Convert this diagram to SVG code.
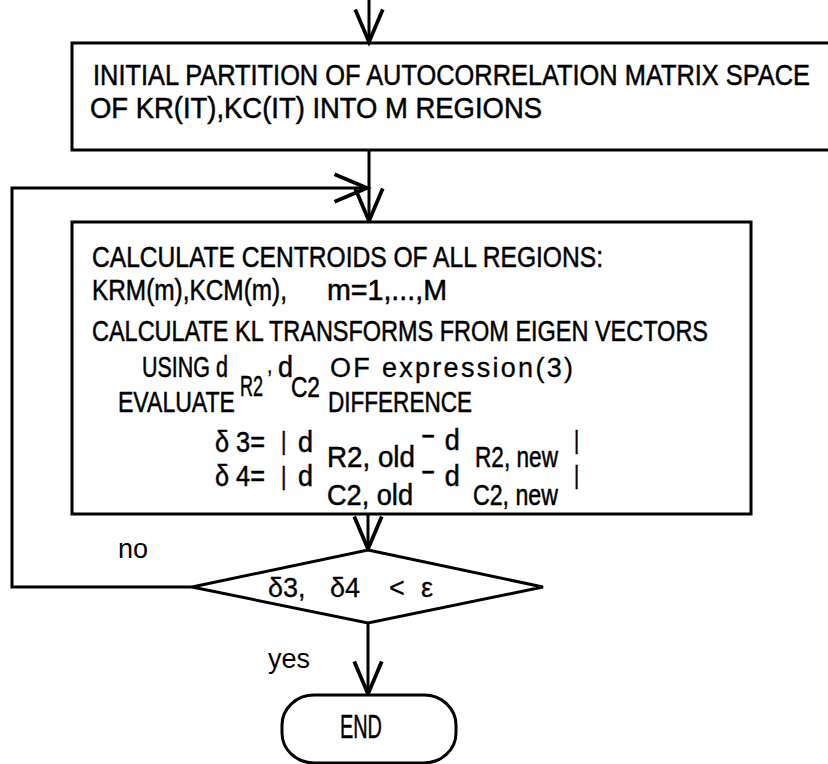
<svg xmlns="http://www.w3.org/2000/svg" width="828" height="764" viewBox="0 0 828 764">
<style>
.box{fill:#fff;stroke:#000;stroke-width:3}
.ln{fill:none;stroke:#000;stroke-width:3}
.t{font-family:"Liberation Sans",Arial,sans-serif;font-size:29px;fill:#000;stroke:#000;stroke-width:0.5}
.u{font-family:"Liberation Sans",Arial,sans-serif;font-size:27px;fill:#000;stroke:#000;stroke-width:0.3}
.s{font-family:"Liberation Sans",Arial,sans-serif;font-size:27px;fill:#000}
</style>
<defs>
<marker id="ah" markerUnits="userSpaceOnUse" orient="auto" refX="0" refY="0" markerWidth="40" markerHeight="40" viewBox="-30 -15 32 30" overflow="visible">
<path d="M-26,-11 L0,0 L-26,11" fill="none" stroke="#000" stroke-width="3"/>
</marker>
</defs>
<rect width="828" height="764" fill="#fff"/>
<g id="connectors">
<path class="ln" d="M369,0 V42" marker-end="url(#ah)"/>
<path class="ln" d="M369,150 V221" marker-end="url(#ah)"/>
<path class="ln" d="M192,587 H12 V188 H367" marker-end="url(#ah)"/>
<path class="ln" d="M368,514 V549" marker-end="url(#ah)"/>
<path class="ln" d="M368,623 V694" marker-end="url(#ah)"/>
</g>
<g id="init">
<path class="ln" d="M832,43 H72 V150 H832"/>
<g transform="scale(0.8,1)">
<text class="t" x="116.25" y="85" textLength="896.25" lengthAdjust="spacingAndGlyphs">INITIAL PARTITION OF AUTOCORRELATION MATRIX SPACE</text>
<text class="t" x="112.5" y="118" textLength="565" lengthAdjust="spacingAndGlyphs">OF KR(IT),KC(IT) INTO M REGIONS</text>
</g>
</g>
<g id="calc">
<rect class="box" x="72" y="222" width="679" height="292"/>
<g transform="scale(0.8,1)">
<text class="t" x="115" y="267" textLength="638.75" lengthAdjust="spacingAndGlyphs">CALCULATE CENTROIDS OF ALL REGIONS:</text>
<text class="t" x="115" y="300" textLength="243.75" lengthAdjust="spacingAndGlyphs">KRM(m),KCM(m),</text>
<text class="t" x="408.75" y="300" textLength="150" lengthAdjust="spacingAndGlyphs">m=1,...,M</text>
<text class="t" x="115" y="341" textLength="770" lengthAdjust="spacingAndGlyphs">CALCULATE KL TRANSFORMS FROM EIGEN VECTORS</text>
<text class="t" x="177.5" y="377" textLength="107.5" lengthAdjust="spacingAndGlyphs">USING d</text>
<text class="t" x="300" y="396" textLength="28.75" lengthAdjust="spacingAndGlyphs">R2</text>
<text class="t" x="334" y="373" style="font-size:22px">,</text>
<text class="t" x="347.5" y="377" textLength="18.75" lengthAdjust="spacingAndGlyphs">d</text>
<text class="t" x="363.75" y="397" textLength="36.25" lengthAdjust="spacingAndGlyphs">C2</text>
<text class="t" x="147.5" y="412" textLength="146.25" lengthAdjust="spacingAndGlyphs">EVALUATE</text>
<text class="t" x="410" y="412" textLength="180" lengthAdjust="spacingAndGlyphs">DIFFERENCE</text>
<text class="t" x="268.75" y="452" textLength="62.5" lengthAdjust="spacingAndGlyphs">δ 3=</text>
<text class="t" x="351.25" y="450" style="font-size:26px">|</text>
<text class="t" x="372.5" y="452" textLength="18.75" lengthAdjust="spacingAndGlyphs">d</text>
<text class="t" x="408.75" y="467" textLength="110" lengthAdjust="spacingAndGlyphs">R2, old</text>
<text class="t" x="593.75" y="467" textLength="103.75" lengthAdjust="spacingAndGlyphs">R2, new</text>
<text class="t" x="717.5" y="449" style="font-size:25px">|</text>
<text class="t" x="268.75" y="486" textLength="62.5" lengthAdjust="spacingAndGlyphs">δ 4=</text>
<text class="t" x="351.25" y="485" style="font-size:26px">|</text>
<text class="t" x="372.5" y="486" textLength="18.75" lengthAdjust="spacingAndGlyphs">d</text>
<text class="t" x="408.75" y="505" textLength="107.5" lengthAdjust="spacingAndGlyphs">C2, old</text>
<text class="t" x="591.25" y="505" textLength="106.25" lengthAdjust="spacingAndGlyphs">C2, new</text>
<text class="t" x="717.5" y="484" style="font-size:25px">|</text>
<text class="t" x="527" y="446">−</text>
<text class="t" x="556" y="450" textLength="18.75" lengthAdjust="spacingAndGlyphs">d</text>
<text class="t" x="527" y="482">−</text>
<text class="t" x="556" y="486" textLength="18.75" lengthAdjust="spacingAndGlyphs">d</text>
</g>
<text class="u" x="330" y="377" textLength="243" lengthAdjust="spacing">OF expression(3)</text>
</g>
<g id="decision">
<polygon class="box" points="368,550 543,587 368,623 192,587"/>
<text class="u" x="268" y="597">δ3,</text>
<text class="u" x="330" y="597">δ4</text>
<text class="u" x="389" y="597">&lt;</text>
<text class="u" x="421" y="597">ε</text>
</g>
<g id="labels">
<text class="s" x="118" y="558">no</text>
<text class="s" x="268" y="668">yes</text>
</g>
<g id="end">
<rect class="box" x="282" y="695" width="174" height="68" rx="32" ry="30"/>
<g transform="scale(0.8,1)">
<text class="t" x="425" y="738" style="font-size:34px" textLength="52.5" lengthAdjust="spacingAndGlyphs">END</text>
</g>
</g>
</svg>
